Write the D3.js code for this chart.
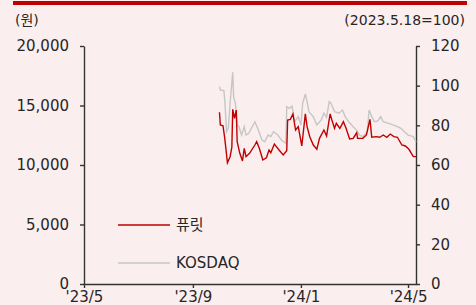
<!DOCTYPE html>
<html>
<head>
<meta charset="utf-8">
<script src="https://cdn.jsdelivr.net/npm/d3@7"></script>
<style>
  body { margin: 0; background: #fbeeee; }
  svg text { font-family: "DejaVu Sans", "Noto Sans CJK KR", sans-serif; fill: #262626; }
</style>
</head>
<body>
<div class="canvas"></div>
<script>
// Data
var priceDates = ['2023-10-01','2023-10-02','2023-10-05','2023-10-07','2023-10-10','2023-10-13','2023-10-15','2023-10-16',
    '2023-10-18','2023-10-20','2023-10-21','2023-10-24','2023-10-27','2023-10-29','2023-10-31','2023-11-04','2023-11-10',
    '2023-11-12','2023-11-15','2023-11-19','2023-11-23','2023-11-26','2023-11-28','2023-12-02','2023-12-08','2023-12-12',
    '2023-12-16','2023-12-17','2023-12-20','2023-12-23','2023-12-26','2023-12-29','2024-01-02','2024-01-06','2024-01-08',
    '2024-01-11','2024-01-15','2024-01-19','2024-01-22','2024-01-27','2024-01-30','2024-02-03','2024-02-05','2024-02-08',
    '2024-02-10','2024-02-14','2024-02-18','2024-02-21','2024-02-25','2024-02-29','2024-03-04','2024-03-05','2024-03-11',
    '2024-03-15','2024-03-19','2024-03-21','2024-03-26','2024-03-30','2024-04-03','2024-04-07','2024-04-11','2024-04-15',
    '2024-04-19','2024-04-24','2024-04-28','2024-05-02','2024-05-07','2024-05-10'];
var priceValues = [14430,13360,13300,12240,10190,10700,11490,14680,13920,14620,11960,10980,10340,11400,10700,10980,11680,
    11960,11400,10420,10610,11260,11030,11760,11200,10840,11200,13780,13840,14290,12940,13220,11600,14290,13220,12380,
    11680,11320,12240,12940,12440,14290,13780,13080,13500,13080,13640,13080,12180,12240,12710,12240,12240,12520,13840,
    12330,12380,12330,12520,12330,12600,12380,12330,11680,11600,11320,10700,10700];

var kosdaqDates = ['2023-10-01','2023-10-02','2023-10-06','2023-10-07','2023-10-09','2023-10-11','2023-10-13','2023-10-16',
    '2023-10-17','2023-10-19','2023-10-21','2023-10-23','2023-10-26','2023-10-29','2023-10-31','2023-11-03','2023-11-07',
    '2023-11-10','2023-11-14','2023-11-18','2023-11-21','2023-11-25','2023-11-28','2023-12-01','2023-12-06','2023-12-10',
    '2023-12-15','2023-12-16','2023-12-19','2023-12-22','2023-12-25','2023-12-29','2024-01-01','2024-01-03','2024-01-06',
    '2024-01-08','2024-01-10','2024-01-15','2024-01-19','2024-01-24','2024-01-27','2024-01-30','2024-02-02','2024-02-04',
    '2024-02-08','2024-02-13','2024-02-17','2024-02-20','2024-02-24','2024-02-29','2024-03-04','2024-03-07','2024-03-11',
    '2024-03-16','2024-03-18','2024-03-21','2024-03-24','2024-03-28','2024-03-31','2024-04-03','2024-04-09','2024-04-14',
    '2024-04-19','2024-04-23','2024-04-27','2024-05-01','2024-05-07','2024-05-10'];
var kosdaqValues = [99.5,97.8,97.5,92.8,76.8,78.5,91.1,106.7,94.4,91.1,80.2,79.3,75.1,79.3,75.1,76.0,79.3,81.8,77.6,72.6,
    71.7,75.1,74.3,76.8,75.1,72.6,70.9,89.4,88.6,89.7,81.8,84.4,80.2,91.1,95.8,91.9,86.9,84.4,80.2,82.7,86.1,84.0,91.9,
    91.1,86.9,86.1,87.7,84.4,81.8,79.3,77.6,75.1,74.3,76.8,87.7,84.4,81.8,82.2,84.4,81.8,81.0,80.2,79.3,78.5,76.8,75.1,
    74.3,71.6];

var leftTicks = [0, 5000, 10000, 15000, 20000],
    rightTicks = [0, 20, 40, 60, 80, 100, 120],
    xTicks = ['2023-05-01', '2023-09-01', '2024-01-01', '2024-05-01'],
    xDomain = ['2023-05-01', '2024-05-10'],
    seriesNames = ['퓨릿', 'KOSDAQ'];

// Config
var width = 476, height = 305,
    redColor = '#c00000',
    grayColor = '#c6c6c6',
    axisColor = '#333333',
    parse = d3.timeParse('%Y-%m-%d');

var svg = d3.select('.canvas').append('svg')
    .attr('width', width)
    .attr('height', height);

svg.append('rect').attr('width', width).attr('height', height).attr('fill', '#fbeeee');

// top rule
svg.append('rect').attr('x', 13).attr('y', 1).attr('width', 454).attr('height', 4).attr('fill', redColor);

var x = d3.scaleTime().domain(xDomain.map(parse)).range([84, 416]),
    yL = d3.scaleLinear().domain([0, 20000]).range([284, 46]),
    yR = d3.scaleLinear().domain([0, 120]).range([284, 46]);

// units
svg.append('text').attr('x', 15).attr('y', 25).style('font-size', '14px').text('(원)');
svg.append('text').attr('x', 465).attr('y', 25).attr('text-anchor', 'end').style('font-size', '14px').text('(2023.5.18=100)');

function styleAxis(g) {
    g.select('.domain').attr('stroke', axisColor).attr('stroke-width', 1.4);
    g.selectAll('.tick line').attr('stroke', axisColor).attr('stroke-width', 1.4);
    g.selectAll('.tick text').style('font-size', '15px').attr('fill', '#262626');
    g.attr('font-family', null);
}

svg.append('g').attr('transform', 'translate(84,0)')
    .call(d3.axisLeft(yL).tickValues(leftTicks).tickSize(4).tickPadding(11).tickSizeOuter(0).tickFormat(d3.format(',')))
    .call(styleAxis);

svg.append('g').attr('transform', 'translate(416,0)')
    .call(d3.axisRight(yR).tickValues(rightTicks).tickSize(4).tickPadding(11).tickSizeOuter(0))
    .call(styleAxis);

svg.append('g').attr('transform', 'translate(0,284)')
    .call(d3.axisBottom(x).tickValues(xTicks.map(parse)).tickSize(4).tickPadding(3).tickSizeOuter(0)
        .tickFormat(d3.timeFormat("'%y/%-m")))
    .call(styleAxis);

// lines
var kosdaq = kosdaqDates.map(function (d, i) { return {date: parse(d), value: kosdaqValues[i]}; }),
    price = priceDates.map(function (d, i) { return {date: parse(d), value: priceValues[i]}; });

svg.append('path').datum(kosdaq)
    .attr('fill', 'none').attr('stroke', grayColor).attr('stroke-width', 1.4)
    .attr('d', d3.line().x(function (d) { return x(d.date); }).y(function (d) { return yR(d.value); }));

svg.append('path').datum(price)
    .attr('fill', 'none').attr('stroke', redColor).attr('stroke-width', 1.4)
    .attr('d', d3.line().x(function (d) { return x(d.date); }).y(function (d) { return yL(d.value); }));

// legend
var legend = svg.selectAll('.legend').data(seriesNames).enter().append('g')
    .attr('transform', function (d, i) { return 'translate(118,' + (225 + i * 38) + ')'; });
legend.append('line').attr('x1', 0).attr('x2', 52)
    .attr('stroke', function (d, i) { return i === 0 ? redColor : grayColor; }).attr('stroke-width', 1.4);
legend.append('text').attr('x', 58).attr('dy', '0.35em').style('font-size', '15px').text(function (d) { return d; });
</script>
</body>
</html>
